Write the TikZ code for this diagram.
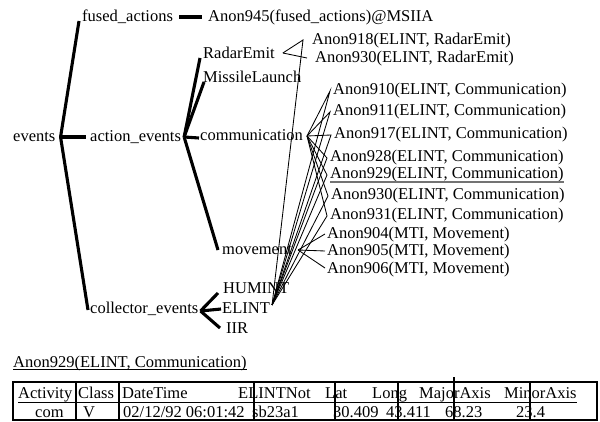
\documentclass[tikz,border=0pt]{standalone}
\usepackage{fontspec}
\setmainfont{Liberation Serif}
\begin{document}
\begin{tikzpicture}[x=1pt,y=-1pt,
  lbl/.style={anchor=west, inner sep=0pt, text height=12pt, text depth=2pt,
              font=\fontsize{16.5}{18}\selectfont},
  tree/.style={line width=3.1pt},
  link/.style={line width=0.85pt},
  rule/.style={line width=2.9pt},
  uline/.style={line width=0.8pt}]
\useasboundingbox (0,0) rectangle (600,422);

% ---------------- class hierarchy ----------------
\node[lbl] (events)    at (13,137)  {events};
\node[lbl] (fused)     at (82,17)   {fused\_actions};
\node[lbl] (anon945)   at (208,17)  {Anon945(fused\_actions)@MSIIA};
\node[lbl] (action)    at (90,137)  {action\_events};
\node[lbl] (radar)     at (203,54)  {RadarEmit};
\node[lbl] (missile)   at (203,78)  {MissileLaunch};
\node[lbl] (comm)      at (200,136) {communication};
\node[lbl] (movement)  at (222,250) {movement};
\node[lbl] (collector) at (90,308)  {collector\_events};
\node[lbl] (humint)    at (223,289) {HUMINT};
\node[lbl] (elint)     at (222,308) {ELINT};
\node[lbl] (iir)       at (226,328) {IIR};

% ---------------- instances ----------------
\node[lbl] (r918) at (312,40)  {Anon918(ELINT, RadarEmit)};
\node[lbl] (r930) at (315,58)  {Anon930(ELINT, RadarEmit)};
\node[lbl] (c910) at (333,90)  {Anon910(ELINT, Communication)};
\node[lbl] (c911) at (333,111) {Anon911(ELINT, Communication)};
\node[lbl] (c917) at (334,134) {Anon917(ELINT, Communication)};
\node[lbl] (c928) at (330,157) {Anon928(ELINT, Communication)};
\node[lbl] (c929) at (330,174) {Anon929(ELINT, Communication)};
\node[lbl] (c930) at (331,195) {Anon930(ELINT, Communication)};
\node[lbl] (c931) at (330,215) {Anon931(ELINT, Communication)};
\node[lbl] (m904) at (327,234) {Anon904(MTI, Movement)};
\node[lbl] (m905) at (327,251) {Anon905(MTI, Movement)};
\node[lbl] (m906) at (327,268) {Anon906(MTI, Movement)};

% selected instance
\draw[line width=1.5pt, black!55]
  ([yshift=-1pt]c929.south west) -- ([yshift=-1pt]c929.south east);

% ---------------- tree connectors ----------------
\coordinate (evJ) at ([xshift=5pt]events.east);
\draw[tree] (evJ) -- ([xshift=-3pt,yshift=-4pt]fused.west);
\draw[tree] (evJ) -- ([xshift=-4pt]action.west);
\draw[tree] (evJ) -- ([xshift=-2pt,yshift=-2pt]collector.west);

\draw[tree] ([xshift=6pt]fused.east) -- ([xshift=-6pt]anon945.west);

\coordinate (acJ) at ([xshift=3pt]action.east);
\draw[tree] (acJ) -- ([xshift=-3pt,yshift=-4pt]radar.west);
\draw[tree] (acJ) -- ([xshift=1pt,yshift=-4pt]missile.west);
\draw[tree] (acJ) -- ([xshift=-1pt,yshift=-2pt]comm.west);
\draw[tree] (acJ) -- ([xshift=-4pt]movement.west);

\coordinate (coJ) at ([xshift=2pt,yshift=-3pt]collector.east);
\draw[tree] (coJ) -- ([xshift=-5pt,yshift=-4pt]humint.west);
\draw[tree] (coJ) -- ([xshift=-1pt,yshift=-1pt]elint.west);
\draw[tree] (coJ) -- ([xshift=-6pt]iir.west);

% ---------------- instance links ----------------
\coordinate (raJ)  at ([xshift=8pt,yshift=1pt]radar.east);
\coordinate (r918J) at ([xshift=-9pt]r918.west);
\coordinate (elJ)  at ([xshift=2pt,yshift=3pt]elint.east);
\coordinate (cmJ)  at ([xshift=4pt]comm.east);
\coordinate (mvJ)  at ([xshift=6pt]movement.east);

\draw[link] (raJ) -- (r918J) -- (elJ);
\draw[link] (raJ) -- ([xshift=-8pt]r930.west);

\foreach \n in {c910,c911,c917,c928,c929,c930,c931}
  \draw[link] (cmJ) -- ([xshift=-3pt,yshift=-1pt]\n.west) -- (elJ);

\foreach \n in {m904,m905,m906}
  \draw[link] (mvJ) -- ([xshift=-2pt]\n.west);

% ---------------- detail of the selected instance ----------------
\node[lbl] (detail) at (13,362) {Anon929(ELINT, Communication)};
\draw[uline] (detail.south west) -- (detail.south east);

% header row
\node[lbl] (hAct)   at (18,393)  {Activity};
\node[lbl] (hClass) at (78,393)  {Class};
\node[lbl] (hDate)  at (122,393) {DateTime};
\node[lbl] (hElint) at (238,393) {ELINTNot};
\node[lbl] (hLat)   at (325,393) {Lat};
\node[lbl] (hLong)  at (372,393) {Long};
\node[lbl] (hMaj)   at (419,393) {MajorAxis};
\node[lbl] (hMin)   at (504,393) {MinorAxis};
\draw[uline] (18,402) -- (577,402);

% data row
\node[lbl] (dAct)   at (35,412)  {com};
\node[lbl] (dClass) at (83,412)  {V};
\node[lbl] (dDate)  at (123,412) {02/12/92 06:01:42};
\node[lbl] (dElint) at (252,412) {sb23a1};
\node[lbl] (dLat)   at (333,412) {30.409};
\node[lbl] (dLong)  at (386,412) {43.411};
\node[lbl] (dMaj)   at (445,412) {68.23};
\node[lbl] (dMin)   at (516,412) {23.4};

% table frame and column rules
\draw[rule] (13,382) rectangle (597,420);
\foreach \x in {76,119,254,335,398,530}
  \draw[rule] (\x,382) -- (\x,420);
\draw[rule] (454,377) -- (454,420);
\end{tikzpicture}
\end{document}
